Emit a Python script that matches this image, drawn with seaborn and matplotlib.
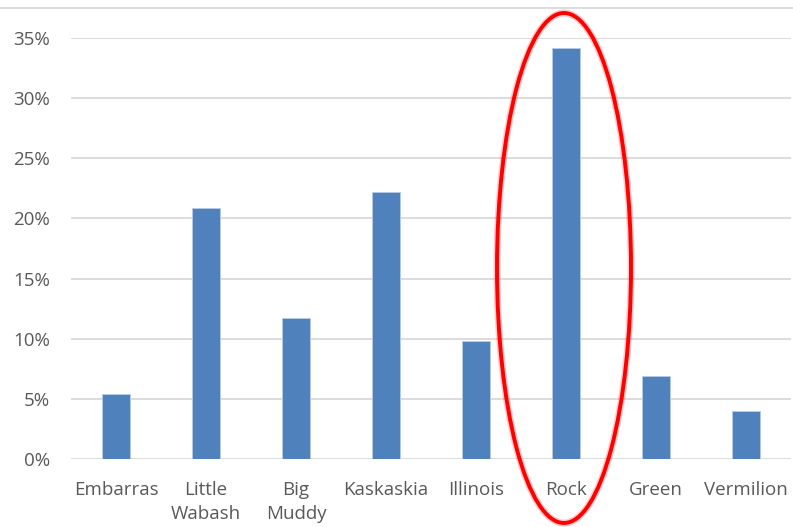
import matplotlib
matplotlib.use("Agg")
import matplotlib.pyplot as plt
from matplotlib.patches import Ellipse
from matplotlib.lines import Line2D
import seaborn as sns
import pandas as pd

rivers = ["Embarras", "Little\nWabash", "Big\nMuddy", "Kaskaskia", "Illinois", "Rock", "Green", "Vermilion"]
share = [0.054, 0.209, 0.117, 0.222, 0.098, 0.342, 0.069, 0.040]
y_ticks = [0.0, 0.05, 0.10, 0.15, 0.20, 0.25, 0.30, 0.35]
y_labels = ["0%", "5%", "10%", "15%", "20%", "25%", "30%", "35%"]
highlight = "Rock"

df = pd.DataFrame({"river": rivers, "share": share})

sns.set_theme(style="white")
plt.rcParams["font.family"] = ["Open Sans", "DejaVu Sans"]

W, H = 793, 527
fig = plt.figure(figsize=(W / 100, H / 100), dpi=100)
ax = fig.add_axes([71 / W, 1 - 459 / H, 720 / W, 421 / H])

sns.barplot(data=df, x="river", y="share", color="#4f81bd", saturation=1,
            width=0.31, ax=ax, zorder=3, edgecolor="#b4cbe8", linewidth=0.7)

ax.set_ylim(0, 0.35)
ax.set_xlim(-0.5, len(rivers) - 0.5)
ax.set_yticks(y_ticks)
ax.set_yticklabels(y_labels)
ax.yaxis.grid(True, color="#d9d9d9", linewidth=1.3, zorder=0)
ax.set_axisbelow(True)
for s in ax.spines.values():
    s.set_visible(False)
ax.tick_params(axis="both", length=0, labelsize=13.5, labelcolor="#595959")
ax.tick_params(axis="y", pad=15)
ax.tick_params(axis="x", pad=16)
for lbl in ax.get_xticklabels():
    lbl.set_linespacing(1.42)
ax.set_xlabel("")
ax.set_ylabel("")

# thin rule across the top of the chart
fig.add_artist(Line2D([0, 1], [1 - 8 / H, 1 - 8 / H], transform=fig.transFigure,
                      color="#d9d9d9", linewidth=1.3))

# red ring around the highlighted river
idx = rivers.index(highlight)
cx_disp = ax.transData.transform((idx, 0))[0]
cx = cx_disp / W - 2 / W
cy = 1 - 268 / H
for lw, alpha in [(5.0, 0.22), (2.8, 1.0)]:
    fig.add_artist(Ellipse((cx, cy), 134 / W, 510 / H, transform=fig.transFigure,
                           fill=False, edgecolor="#ff0000", linewidth=lw,
                           alpha=alpha, zorder=10))

fig.savefig("out.png", dpi=100)
